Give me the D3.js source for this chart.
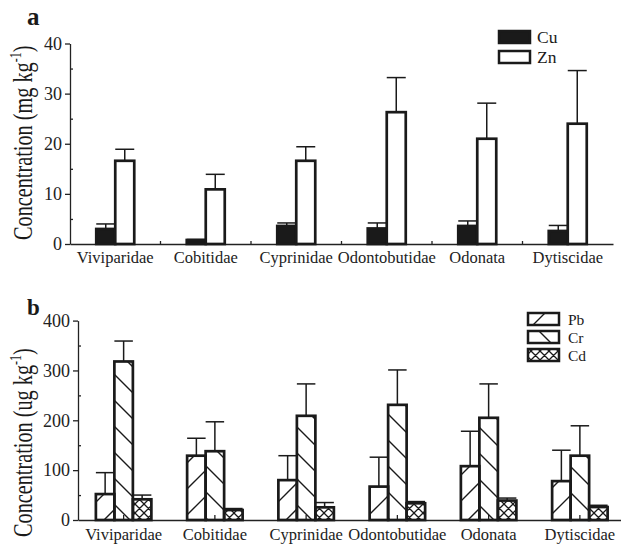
<!DOCTYPE html>
<html lang="en">
<head>
<meta charset="UTF-8">
<title>Metal concentrations by family</title>
<script src="https://d3js.org/d3.v7.min.js"></script>
<style>
    body { margin: 0; background: #fff; }
    svg { display: block; font-family: "Liberation Serif", "Times New Roman", serif; }
    .axis path, .axis line { stroke: #222; stroke-width: 1.3; }
    .axis text { font-family: "Liberation Serif", "Times New Roman", serif; fill: #222; }
</style>
</head>
<body>
<svg id="chart" width="621" height="545"></svg>
<script>
const categories = ["Viviparidae", "Cobitidae", "Cyprinidae", "Odontobutidae", "Odonata", "Dytiscidae"];

// panel a, mg/kg
const cuMean = [3.0, 0.8, 3.6, 3.1, 3.6, 2.6];
const cuSd   = [1.0, 0.1, 0.6, 1.1, 1.0, 1.1];
const znMean = [16.6, 10.9, 16.6, 26.3, 21.0, 24.0];
const znSd   = [2.3, 3.0, 2.8, 6.9, 7.1, 10.6];
const ticksA = [0, 10, 20, 30, 40];
const minorA = [5, 15, 25, 35];

// panel b, ug/kg
const pbMean = [52, 129, 80, 67, 108, 78];
const pbSd   = [43, 35, 49, 59, 70, 62];
const crMean = [318, 138, 209, 231, 205, 129];
const crSd   = [41, 59, 64, 70, 68, 60];
const cdMean = [41.5, 20, 25.4, 33.5, 39, 26];
const cdSd   = [8.5, 3, 9.6, 3.5, 5, 3.5];
const ticksB = [0, 100, 200, 300, 400];
const minorB = [50, 150, 250, 350];

const ink = "#1a1a1a";
const svg = d3.select("#chart");

// hatch patterns
const defs = svg.append("defs");
function hatch(id, size, d, sw) {
    defs.append("pattern")
        .attr("id", id)
        .attr("patternUnits", "userSpaceOnUse")
        .attr("width", size).attr("height", size)
        .append("path")
        .attr("d", d)
        .attr("stroke", ink)
        .attr("stroke-width", sw)
        .attr("fill", "none");
}
hatch("fwd", 26, "M0,26L26,0M-3,3L3,-3M23,29L29,23", 1.4);
hatch("back", 26, "M0,0L26,26M-3,23L3,29M23,-3L29,3", 1.4);
hatch("cross", 9, "M0,0L9,9M0,9L9,0M-1,1L1,-1M8,10L10,8M-1,8L1,10M8,-1L10,1", 1.3);

function panel(opt) {
    const x = d3.scaleBand().domain(categories).range(opt.xRange).padding(0);
    const y = d3.scaleLinear().domain([0, opt.ticks[opt.ticks.length - 1]]).range(opt.yRange);
    const g = svg.append("g");
    const barW = opt.barW;
    const n = opt.series.length;

    // y axis
    g.append("g").attr("class", "axis")
        .attr("transform", `translate(${opt.xRange[0]},0)`)
        .call(d3.axisLeft(y).tickValues(opt.ticks).tickSize(5).tickSizeOuter(0).tickPadding(3))
        .call(a => a.selectAll("text").style("font-size", "18px"));
    g.append("g").attr("class", "axis")
        .attr("transform", `translate(${opt.xRange[0]},0)`)
        .call(d3.axisRight(y).tickValues(opt.minor).tickSize(3).tickFormat(""))
        .call(a => a.select(".domain").remove());

    // x axis
    g.append("g").attr("class", "axis")
        .attr("transform", `translate(0,${opt.yRange[0]})`)
        .call(d3.axisBottom(x).tickSize(opt.centerTicks ? -5 : 0).tickSizeOuter(0).tickPadding(opt.labelPad))
        .call(a => a.selectAll("text").style("font-size", "16.5px"));
    if (!opt.centerTicks) {
        g.append("g").attr("class", "axis")
            .selectAll("line")
            .data(categories.slice(1))
            .join("line")
            .attr("x1", d => x(d)).attr("x2", d => x(d))
            .attr("y1", opt.yRange[0]).attr("y2", opt.yRange[0] - 3);
    }

    // bars
    opt.series.forEach((s, i) => {
        const off = (i - n / 2) * barW;
        const sg = g.append("g");
        sg.selectAll("line.err")
            .data(categories)
            .join("line")
            .attr("x1", (c) => x(c) + x.bandwidth() / 2 + off + barW / 2)
            .attr("x2", (c) => x(c) + x.bandwidth() / 2 + off + barW / 2)
            .attr("y1", (c, j) => y(s.mean[j]))
            .attr("y2", (c, j) => y(s.mean[j] + s.sd[j]))
            .attr("stroke", ink).attr("stroke-width", 1.5);
        sg.selectAll("line.cap")
            .data(categories)
            .join("line")
            .attr("x1", (c) => x(c) + x.bandwidth() / 2 + off)
            .attr("x2", (c) => x(c) + x.bandwidth() / 2 + off + barW)
            .attr("y1", (c, j) => y(s.mean[j] + s.sd[j]))
            .attr("y2", (c, j) => y(s.mean[j] + s.sd[j]))
            .attr("stroke", ink).attr("stroke-width", 1.5);
        sg.selectAll("rect")
            .data(categories)
            .join("rect")
            .attr("x", c => x(c) + x.bandwidth() / 2 + off)
            .attr("width", barW)
            .attr("y", (c, j) => y(s.mean[j]))
            .attr("height", (c, j) => y(0) - y(s.mean[j]))
            .attr("fill", s.fill)
            .attr("stroke", ink)
            .attr("stroke-width", 2.7);
    });

    // legend
    const lg = g.append("g");
    opt.series.forEach((s, i) => {
        const ly = opt.legend.y + i * opt.legend.step;
        lg.append("rect")
            .attr("x", opt.legend.x).attr("y", ly)
            .attr("width", 31).attr("height", 12)
            .attr("fill", s.fill).attr("stroke", ink).attr("stroke-width", 2.5);
        lg.append("text")
            .attr("x", opt.legend.x + opt.legend.tx).attr("y", ly + 12)
            .attr("font-size", opt.legend.size).attr("fill", ink)
            .text(s.name);
    });

    // y label
    const t = g.append("text")
        .attr("transform", `translate(32,${opt.labelStart}) rotate(-90) scale(0.75,1)`)
        .attr("font-size", 27).attr("fill", ink);
    t.append("tspan").text(`Concentration (${opt.unit} kg`);
    t.append("tspan").attr("font-size", 16).attr("dy", -11).text("-1");
    t.append("tspan").attr("dy", 11).text(")");

    // panel letter
    g.append("text")
        .attr("x", 27).attr("y", opt.letterY)
        .attr("font-size", opt.letterSize).attr("font-weight", "bold").attr("fill", ink)
        .text(opt.letter);
}

panel({
    letter: "a", letterY: 25, letterSize: 25,
    xRange: [70, 613], yRange: [244, 43.5],
    ticks: ticksA, minor: minorA, barW: 19, labelPad: 7, centerTicks: false,
    unit: "mg", labelStart: 240,
    legend: { x: 499, y: 31, step: 20, tx: 38, size: 17.5 },
    series: [
        { name: "Cu", mean: cuMean, sd: cuSd, fill: ink },
        { name: "Zn", mean: znMean, sd: znSd, fill: "#fff" }
    ]
});

panel({
    letter: "b", letterY: 315, letterSize: 23,
    xRange: [78, 625.5], yRange: [520, 320.6],
    ticks: ticksB, minor: minorB, barW: 18.5, labelPad: 8, centerTicks: true,
    unit: "ug", labelStart: 537,
    legend: { x: 528, y: 313, step: 18, tx: 40, size: 15.5 },
    series: [
        { name: "Pb", mean: pbMean, sd: pbSd, fill: "url(#fwd)" },
        { name: "Cr", mean: crMean, sd: crSd, fill: "url(#back)" },
        { name: "Cd", mean: cdMean, sd: cdSd, fill: "url(#cross)" }
    ]
});
</script>
</body>
</html>
